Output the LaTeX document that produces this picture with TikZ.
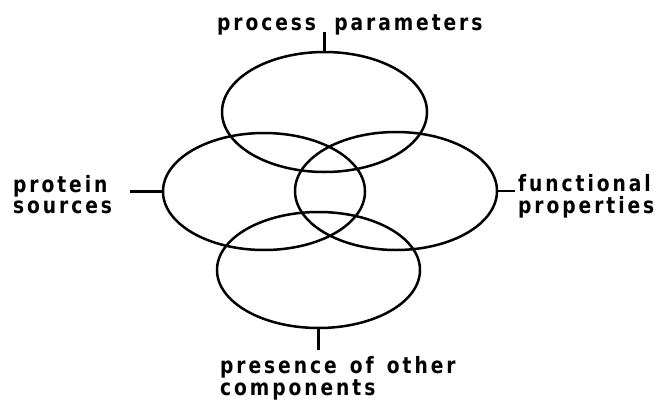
\documentclass[tikz,border=0pt]{standalone}
\usepackage{fontspec}
\setmainfont{DejaVu Sans}[LetterSpace=13, FakeStretch=0.83, WordSpace=1.4]
\usetikzlibrary{shapes.geometric}
\tikzset{
  set/.style={draw, ellipse, line width=2.5pt, inner sep=0pt},
  lbl/.style={anchor=base west, inner sep=0pt, font=\fontsize{22.5}{24}\selectfont\bfseries},
  tick/.style={line width=2.5pt}
}
\begin{document}
\begin{tikzpicture}[x=1pt,y=-1pt]
\useasboundingbox (0,0) rectangle (658,402);
\node[set, minimum width=205pt, minimum height=120pt] (top) at (324.5,112) {};
\node[set, minimum width=202pt, minimum height=117pt] (left) at (264,191.5) {};
\node[set, minimum width=202pt, minimum height=118pt] (right) at (396,191) {};
\node[set, minimum width=203pt, minimum height=116pt] (bottom) at (318.5,270) {};
\node[lbl] (tl) at (217,30) {process\hspace{5pt} parameters};
\node[lbl] (l1) at (13,192) {protein};
\node[lbl] (l2) at (13,213) {sources};
\node[lbl] (r1) at (518,191) {functional};
\node[lbl] (r2) at (518,213) {properties};
\node[lbl] (b1) at (220,373) {presence of other};
\node[lbl] (b2) at (220,395) {components};
\coordinate (ct) at (323,32);
\coordinate (cl) at (130,192);
\coordinate (cr) at (515,193);
\coordinate (cb) at (324,350);
\draw[tick] (top.north) -- (top.north |- ct);
\draw[tick] (left.west) -- (left.west -| cl);
\draw[tick] (right.east) -- (right.east -| cr);
\draw[tick] (bottom.south) -- (bottom.south |- cb);
\end{tikzpicture}
\end{document}
